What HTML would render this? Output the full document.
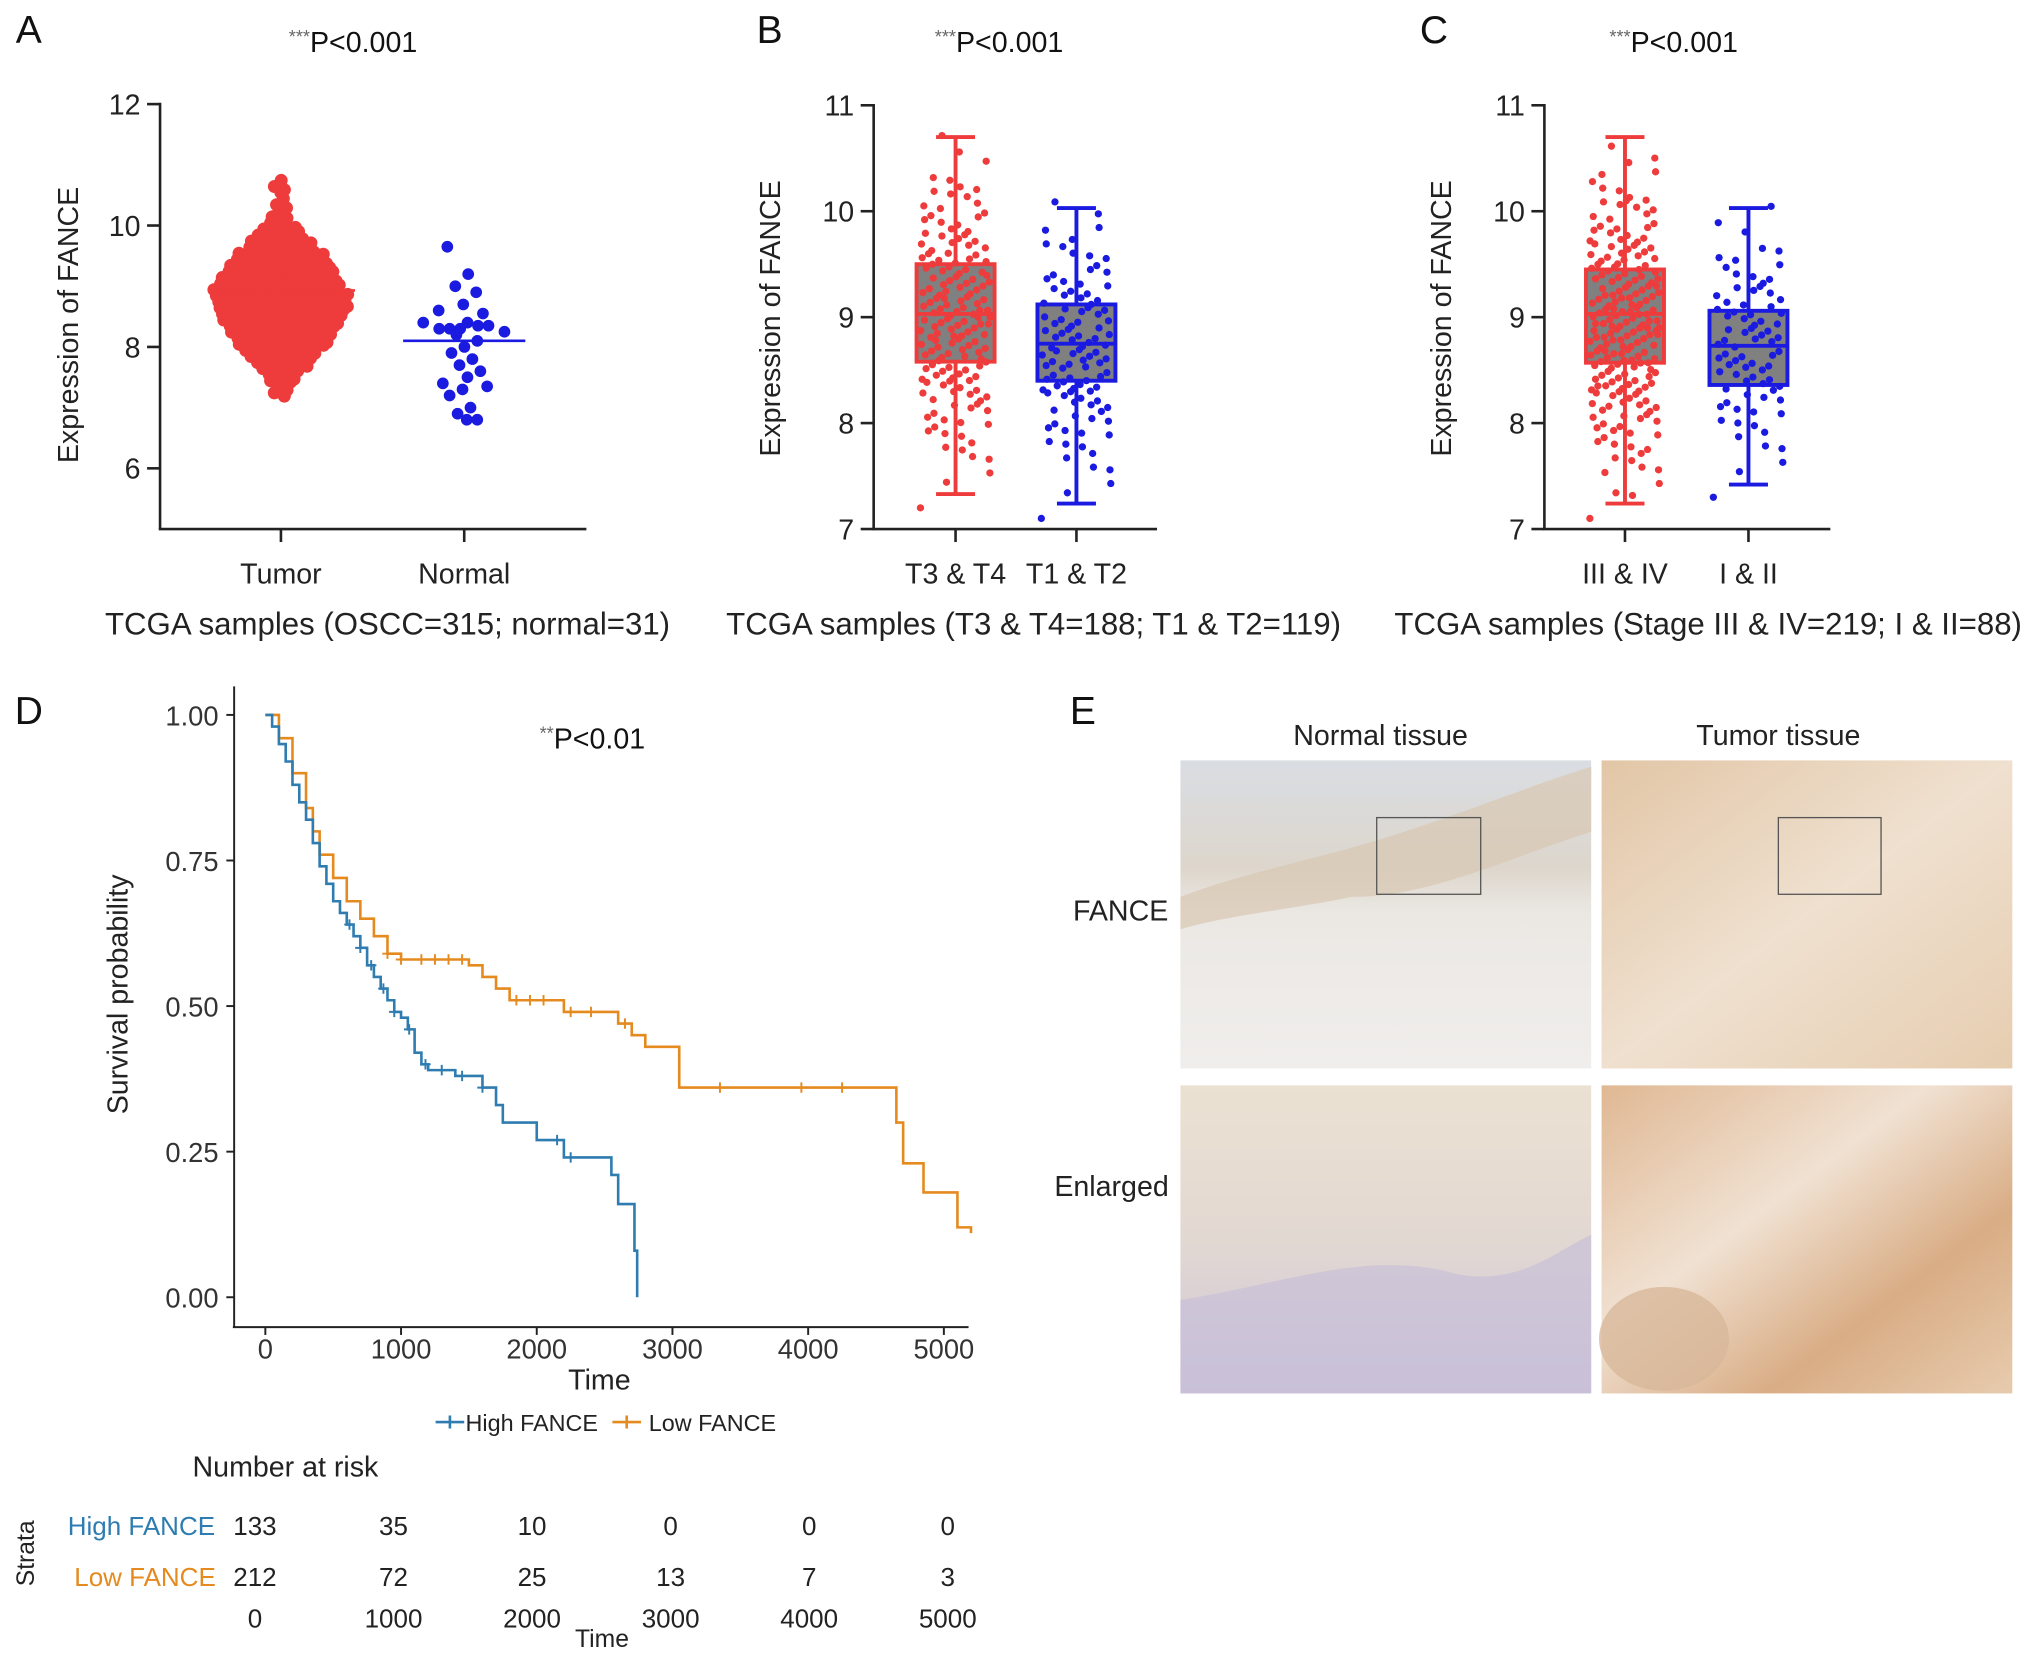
<!DOCTYPE html>
<html><head><meta charset="utf-8"><style>
html,body{margin:0;padding:0;background:#fff}
svg{display:block;font-family:"Liberation Sans",Arial,sans-serif}
</style></head><body>
<svg id="fig" width="2032" height="1656" viewBox="0 0 1563 1274" xmlns="http://www.w3.org/2000/svg">
<defs>
<linearGradient id="gN1" x1="0" y1="0" x2="0" y2="1"><stop offset="0" stop-color="#d9dde3"/><stop offset="0.35" stop-color="#ddd6cc"/><stop offset="0.5" stop-color="#ebe8e4"/><stop offset="1" stop-color="#f0eeec"/></linearGradient>
<linearGradient id="gT1" x1="0" y1="0" x2="1" y2="1"><stop offset="0" stop-color="#e2c6a6"/><stop offset="0.5" stop-color="#efe0cf"/><stop offset="1" stop-color="#e6cdb0"/></linearGradient>
<linearGradient id="gN2" x1="0" y1="0" x2="0" y2="1"><stop offset="0" stop-color="#ebe1d2"/><stop offset="0.5" stop-color="#e2d8d2"/><stop offset="1" stop-color="#cfc6d8"/></linearGradient>
<linearGradient id="gT2" x1="0" y1="0" x2="1" y2="1"><stop offset="0" stop-color="#e0b893"/><stop offset="0.4" stop-color="#f0e1d2"/><stop offset="0.7" stop-color="#d9ad85"/><stop offset="1" stop-color="#e7cbae"/></linearGradient>
</defs>
</svg>
<script>
// ---------- data ----------
const tumorStart = 7.2, tumorStep = 0.1;
const tumorBins = [2,2,3,4,5,7,8,10,11,12,13,14,15,16,16,17,17,17,16,15,14,13,12,11,9,8,7,5,4,3,2,2,1,1,2,1];
const tumorMean = 8.93;
const normalValues = [9.65,9.2,9.0,8.9,8.7,8.6,8.55,8.4,8.4,8.35,8.35,8.3,8.3,8.3,8.25,8.2,8.1,8.0,7.9,7.8,7.7,7.6,7.5,7.4,7.35,7.3,7.2,7.0,6.9,6.8,6.8];
const normalMean = 8.1;
const aTicks = [6,8,10,12];
const bTicks = [7,8,9,10,11];
const cTicks = [7,8,9,10,11];
const bCategories = ["T3 & T4","T1 & T2"];
const cCategories = ["III & IV","I & II"];
const bBox = [[7.33,8.58,9.03,9.5,10.7],[7.24,8.4,8.75,9.12,10.03]];
const cBox = [[7.24,8.57,9.03,9.45,10.7],[7.42,8.36,8.73,9.06,10.03]];
const bStart = [7.3,7.2], bBins = [[1,2,4,6,8,11,14,16,18,18,16,14,11,8,6,4,2,1],[1,2,3,5,7,10,13,14,13,11,9,7,5,3,2]];
const cStart = [7.2,7.4], cBins = [[1,3,5,7,10,13,17,20,22,22,20,17,14,11,8,5,3,2],[1,2,3,5,7,9,11,11,10,8,6,4,2,1]];
const highT = [0,50,100,150,200,250,300,350,400,450,500,550,600,650,700,750,800,850,900,950,1000,1050,1100,1150,1200,1400,1600,1700,1750,2000,2200,2550,2600,2720,2740];
const highS = [1,.98,.95,.92,.88,.85,.82,.78,.74,.71,.68,.66,.64,.62,.60,.57,.55,.53,.51,.49,.48,.46,.42,.40,.39,.38,.36,.33,.30,.27,.24,.21,.16,.08,0];
const lowT = [0,100,200,300,350,400,500,600,700,800,900,1000,1500,1600,1700,1800,2200,2600,2700,2800,3050,4650,4700,4850,5100,5200];
const lowS = [1,.96,.9,.84,.8,.76,.72,.68,.65,.62,.59,.58,.57,.55,.53,.51,.49,.47,.45,.43,.36,.3,.23,.18,.12,.11];
const highCens = [620,700,780,870,950,1060,1180,1300,1450,1600,2150,2250];
const lowCens = [900,1000,1150,1250,1350,1450,1850,1950,2050,2250,2400,2650,3350,3950,4250];
const kmTicksX = [0,1000,2000,3000,4000,5000];
const kmTicksY = [0,0.25,0.5,0.75,1.0];
const riskHigh = [133,35,10,0,0,0];
const riskLow = [212,72,25,13,7,3];

// ---------- helpers ----------
const svg = document.getElementById('fig');
const NS = 'http://www.w3.org/2000/svg';
function mk(tag, attrs, parent){const e=document.createElementNS(NS,tag);for(const k in attrs)e.setAttribute(k,attrs[k]);(parent||svg).appendChild(e);return e;}
function txt(x,y,s,size,anchor,fill){const t=mk('text',{x:x,y:y,'font-size':size,'text-anchor':anchor||'middle',fill:fill||'#222'});t.textContent=s;return t;}
function frac(v){return v-Math.floor(v);}
const RED='#ee3b3b', BLUE='#1a1ae0';

[['A',22,33],['B',592,33],['C',1103,33],['D',22,557],['E',833,557]].forEach(p=>{const t=txt(p[1],p[2],p[0],30,'middle','#111');

});
function pval(x,y,stars,s){const t=mk('text',{x:x,y:y,'font-size':22,'text-anchor':'start',fill:'#111'});const a=document.createElementNS(NS,'tspan');a.setAttribute('font-size',14);a.setAttribute('dy',-7);a.setAttribute('fill','#666');a.textContent=stars;t.appendChild(a);const b=document.createElementNS(NS,'tspan');b.setAttribute('dy',7);b.textContent=s;t.appendChild(b);return t;}
let pv;
pv=pval(222,40,'***','P<0.001');
pv=pval(719,40,'***','P<0.001');
pv=pval(1238,40,'***','P<0.001');
pv=pval(415,576,'**','P<0.01');

// ---------- panel A ----------
const ay = v => 407 - (v-5)*46.7;
const gA = mk('g',{});


mk('line',{x1:123,y1:79,x2:123,y2:407,stroke:'#222','stroke-width':2},gA);
mk('line',{x1:122,y1:407,x2:451,y2:407,stroke:'#222','stroke-width':2},gA);
aTicks.forEach(v=>{mk('line',{x1:113,y1:ay(v),x2:123,y2:ay(v),stroke:'#222','stroke-width':2},gA);const t=txt(108,ay(v)+8,String(v),22,'end');

});
[[216,'Tumor'],[357,'Normal']].forEach(c=>{mk('line',{x1:c[0],y1:407,x2:c[0],y2:417,stroke:'#222','stroke-width':2},gA);const t=txt(c[0],449,c[1],22);

});
let t0=txt(60,250,'Expression of FANCE',22);t0.setAttribute('transform','rotate(-90 60 250)');


t0=txt(298,488,'TCGA samples (OSCC=315; normal=31)',24);


tumorBins.forEach((n,i)=>{const v=tumorStart+i*tumorStep;for(let k=0;k<n;k++){const off=(k-(n-1)/2)*6.2+(frac(k*0.37+i*0.53)-0.5)*4;const c=mk('circle',{cx:216+off,cy:ay(v)+(frac(k*0.618)-0.5)*4,r:5,fill:RED},gA);

}});
let ml=mk('line',{x1:160,y1:ay(tumorMean),x2:273,y2:ay(tumorMean),stroke:RED,'stroke-width':2},gA);


const nCounts={};
normalValues.forEach(v=>{const key=Math.round(v*10);nCounts[key]=(nCounts[key]||0)+1;});
const nSeen={};
normalValues.forEach((v,i)=>{const key=Math.round(v*10);const n=nCounts[key];const k=nSeen[key]=(nSeen[key]||0)+1;const off=(k-1-(n-1)/2)*18+(frac(i*0.618)-0.5)*26;const c=mk('circle',{cx:357+off,cy:ay(v),r:4.5,fill:BLUE},gA);

});
ml=mk('line',{x1:310,y1:ay(normalMean),x2:404,y2:ay(normalMean),stroke:BLUE,'stroke-width':2},gA);



// ---------- box panels ----------
function boxPanel(ax0, ax1, centers, cats, boxes, starts, bins, ticks, titleText, titleX, name){
  const y = v => 407 - (v-7)*81.5;
  const g = mk('g',{});
  
  
  mk('line',{x1:ax0,y1:80,x2:ax0,y2:407,stroke:'#222','stroke-width':2},g);
  mk('line',{x1:ax0-1,y1:407,x2:ax1,y2:407,stroke:'#222','stroke-width':2},g);
  ticks.forEach(v=>{mk('line',{x1:ax0-10,y1:y(v),x2:ax0,y2:y(v),stroke:'#222','stroke-width':2},g);const t=txt(ax0-15,y(v)+8,String(v),22,'end');
  
  });
  const t=txt(ax0-72,245,'Expression of FANCE',22);t.setAttribute('transform','rotate(-90 '+(ax0-72)+' 245)');
  
  
  const tt=txt(titleX,488,titleText,24);
  
  
  centers.forEach((cx,j)=>{
    const col = j===0?RED:BLUE; const b=boxes[j]; const hw=30;
    mk('line',{x1:cx,y1:407,x2:cx,y2:417,stroke:'#222','stroke-width':2},g);
    const l=txt(cx,449,cats[j],22);
    
    
    mk('line',{x1:cx,y1:y(b[0]),x2:cx,y2:y(b[4]),stroke:col,'stroke-width':3},g);
    mk('line',{x1:cx-15,y1:y(b[0]),x2:cx+15,y2:y(b[0]),stroke:col,'stroke-width':3},g);
    mk('line',{x1:cx-15,y1:y(b[4]),x2:cx+15,y2:y(b[4]),stroke:col,'stroke-width':3},g);
    const r=mk('rect',{x:cx-hw,y:y(b[3]),width:hw*2,height:y(b[1])-y(b[3]),fill:'#808080',stroke:col,'stroke-width':3},g);
    
    
    bins[j].forEach((n,i)=>{const v=starts[j]+i*0.2;for(let k=0;k<n;k++){const jx=(frac(k*0.618+i*0.371)-0.5)*hw*1.8;const jy=(frac(k*0.437+i*0.21)-0.5)*0.2;
      const c=mk('circle',{cx:cx+jx,cy:y(v+jy),r:2.8,fill:col},g);
      
      }});
    mk('line',{x1:cx-hw,y1:y(b[2]),x2:cx+hw,y2:y(b[2]),stroke:col,'stroke-width':3},g);
  });
}
boxPanel(672,890,[735,828],bCategories,bBox,bStart,bBins,bTicks,'TCGA samples (T3 & T4=188; T1 & T2=119)',795,'panel-b-boxplot');
boxPanel(1188,1408,[1250,1345],cCategories,cBox,cStart,cBins,cTicks,'TCGA samples (Stage III & IV=219; I & II=88)',1314,'panel-c-boxplot');

// ---------- panel D ----------
const kx = t => 204 + t*0.1044;
const ky = s => 998 - s*448;
const gD = mk('g',{});


mk('line',{x1:180,y1:528,x2:180,y2:1021,stroke:'#222','stroke-width':1.5},gD);
mk('line',{x1:179,y1:1021,x2:745,y2:1021,stroke:'#222','stroke-width':1.5},gD);
kmTicksY.forEach(v=>{mk('line',{x1:174,y1:ky(v),x2:180,y2:ky(v),stroke:'#222','stroke-width':1.5},gD);const t=txt(168,ky(v)+8,v.toFixed(2),21,'end','#333');

});
kmTicksX.forEach(v=>{mk('line',{x1:kx(v),y1:1021,x2:kx(v),y2:1027,stroke:'#222','stroke-width':1.5},gD);const t=txt(kx(v),1045,String(v),21,'middle','#333');

});
t0=txt(461,1069,'Time',22,'middle','#222');


t0=txt(98,765,'Survival probability',22,'middle','#222');t0.setAttribute('transform','rotate(-90 98 765)');


function stepPath(T,S){let d='M'+kx(T[0])+','+ky(S[0]);for(let i=1;i<T.length;i++){d+=' H'+kx(T[i])+' V'+ky(S[i]);}return d;}
function survAt(T,S,t){let s=S[0];for(let i=0;i<T.length;i++){if(T[i]<=t)s=S[i];}return s;}
const LOWC='#e58a1f', HIGHC='#2f7cb0';
let p=mk('path',{d:stepPath(lowT,lowS),fill:'none',stroke:LOWC,'stroke-width':2},gD);


p=mk('path',{d:stepPath(highT,highS),fill:'none',stroke:HIGHC,'stroke-width':2},gD);


function cens(arr,T,S,col,nm){arr.forEach(t=>{const x=kx(t),y=ky(survAt(T,S,t));const c=mk('path',{d:'M'+(x-4)+','+y+'H'+(x+4)+'M'+x+','+(y-4)+'V'+(y+4),stroke:col,'stroke-width':1.5},gD);

});}
cens(lowCens,lowT,lowS,LOWC,'low-censor-mark');
cens(highCens,highT,highS,HIGHC,'high-censor-mark');
const lg=mk('g',{});


mk('path',{d:'M335,1094H357M346,1089V1099',stroke:HIGHC,'stroke-width':2},lg);
txt(358,1101,'High FANCE',18,'start','#222');
mk('path',{d:'M471,1094H493M482,1089V1099',stroke:LOWC,'stroke-width':2},lg);
txt(499,1101,'Low FANCE',18,'start','#222');
t0=txt(148,1136,'Number at risk',22,'start','#222');


t0=txt(52,1181,'High FANCE',20,'start',HIGHC);


t0=txt(57,1220,'Low FANCE',20,'start',LOWC);


t0=txt(26,1195,'Strata',19,'middle','#222');t0.setAttribute('transform','rotate(-90 26 1195)');


const rx = t => 196 + t*0.1066;
kmTicksX.forEach((tv,i)=>{
  let a=txt(rx(tv),1181,String(riskHigh[i]),20,'middle','#222');
  
  
  a=txt(rx(tv),1220,String(riskLow[i]),20,'middle','#222');
  
  
  a=txt(rx(tv),1252,String(tv),20,'middle','#222');
  
  
});
t0=txt(463,1267,'Time',19,'middle','#222');



// ---------- panel E ----------
const gE=mk('g',{});


[[1062,573,'Normal tissue'],[1368,573,'Tumor tissue'],[862,708,'FANCE'],[855,920,'Enlarged']].forEach(l=>{const t=txt(l[0],l[1],l[2],22,'middle','#222');

});
[[908,585,'gN1','normal-fance-image'],[1232,585,'gT1','tumor-fance-image'],[908,835,'gN2','normal-enlarged-image'],[1232,835,'gT2','tumor-enlarged-image']].forEach(im=>{
  const r=mk('rect',{x:im[0],y:im[1],width:316,height:237,fill:'url(#'+im[2]+')'},gE);
  
  
});
mk('path',{d:'M908,690 C960,670 1020,660 1080,640 C1140,620 1190,600 1224,590 L1224,640 C1160,660 1100,690 1040,690 C990,700 940,705 908,715 Z',fill:'#d8c8b2',opacity:0.7},gE);
mk('path',{d:'M908,1000 C980,990 1050,960 1120,980 C1170,990 1200,960 1224,950 L1224,1072 L908,1072 Z',fill:'#c4bcd8',opacity:0.6},gE);
mk('ellipse',{cx:1280,cy:1030,rx:50,ry:40,fill:'#d8b89a',opacity:0.8},gE);
mk('rect',{x:1059,y:629,width:80,height:59,fill:'none',stroke:'#555','stroke-width':1},gE);
mk('rect',{x:1368,y:629,width:79,height:59,fill:'none',stroke:'#555','stroke-width':1},gE);
</script>
</body></html>
